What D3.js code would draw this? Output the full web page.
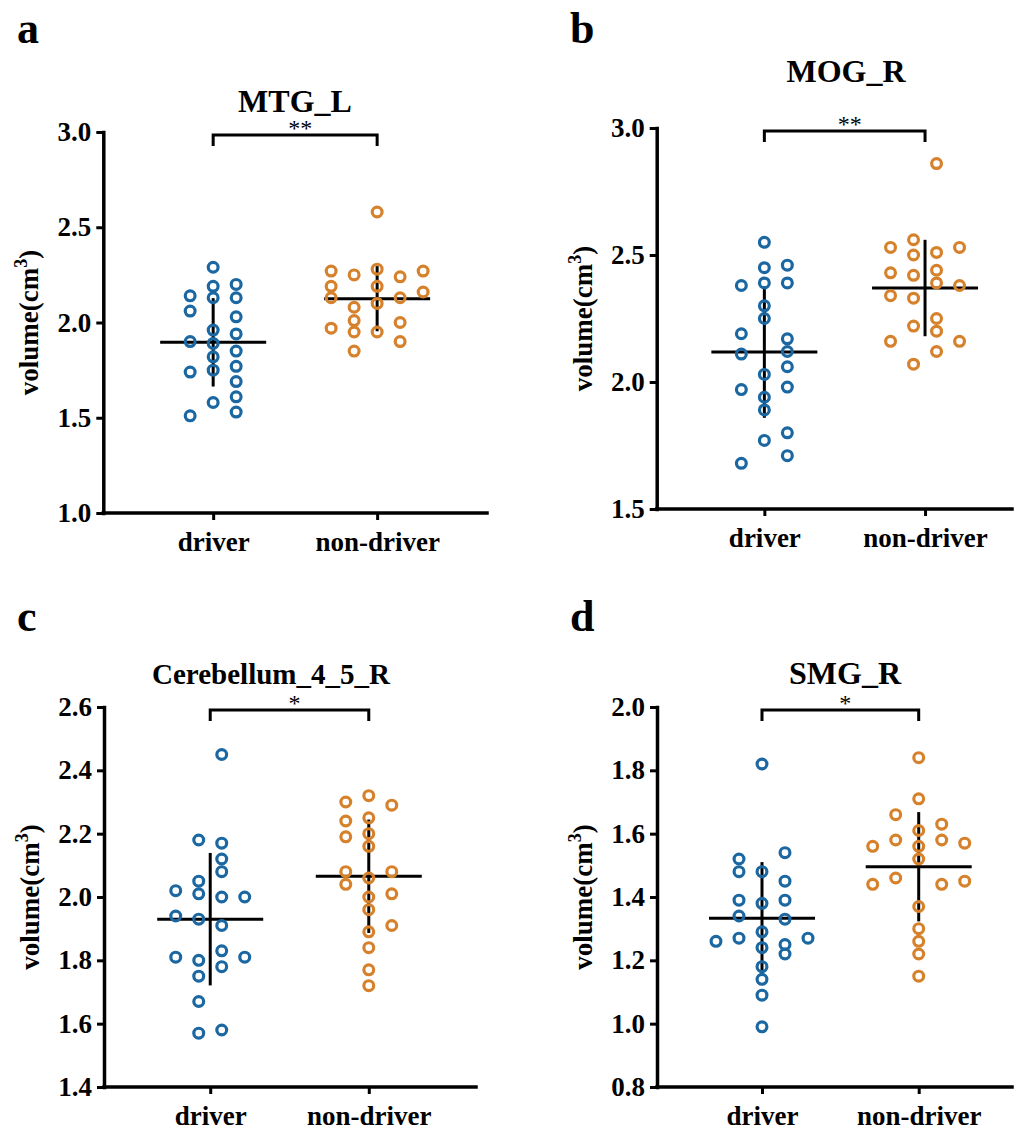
<!DOCTYPE html>
<html>
<head>
<meta charset="utf-8">
<script src="https://cdn.jsdelivr.net/npm/d3@7"></script>
<style>
body { margin: 0; background: #fff; }
svg text { font-family: "Liberation Serif", "Times New Roman", serif; font-weight: bold; fill: #000; }
</style>
</head>
<body>
<svg id="fig" width="1028" height="1126"></svg>
<script>
const groups = ["driver", "non-driver"];
const groupColors = ["#1b67a2", "#d6812b"];

// MTG_L  (lane = swarm column the dot sits in)
const mtgDriver        = [2.14, 2.06, 1.90, 1.74, 1.51, 2.29, 2.19, 2.13, 1.96, 1.89, 1.82, 1.75, 1.58, 2.20, 2.13, 2.03, 1.94, 1.85, 1.77, 1.69, 1.61, 1.53];
const mtgDriverLane    = [-1, -1, -1, -1, -1, 0, 0, 0, 0, 0, 0, 0, 0, 1, 1, 1, 1, 1, 1, 1, 1, 1];
const mtgNonDriver     = [2.27, 2.19, 2.13, 1.97, 2.25, 2.08, 2.01, 1.95, 1.85, 2.58, 2.28, 2.19, 2.10, 1.95, 2.24, 2.13, 2.00, 1.90, 2.27, 2.16];
const mtgNonDriverLane = [-2, -2, -2, -2, -1, -1, -1, -1, -1, 0, 0, 0, 0, 0, 1, 1, 1, 1, 2, 2];

// MOG_R
const mogDriver        = [2.38, 2.19, 2.11, 1.97, 1.68, 2.55, 2.45, 2.39, 2.30, 2.25, 2.03, 1.94, 1.89, 1.77, 2.46, 2.39, 2.17, 2.12, 2.06, 1.98, 1.80, 1.71];
const mogDriverLane    = [-1, -1, -1, -1, -1, 0, 0, 0, 0, 0, 0, 0, 0, 0, 1, 1, 1, 1, 1, 1, 1, 1];
const mogNonDriver     = [2.53, 2.43, 2.34, 2.16, 2.56, 2.50, 2.42, 2.33, 2.22, 2.07, 2.86, 2.51, 2.44, 2.39, 2.25, 2.20, 2.12, 2.53, 2.38, 2.16];
const mogNonDriverLane = [-1.5, -1.5, -1.5, -1.5, -0.5, -0.5, -0.5, -0.5, -0.5, -0.5, 0.5, 0.5, 0.5, 0.5, 0.5, 0.5, 0.5, 1.5, 1.5, 1.5];

// Cerebellum_4_5_R
const cbDriver         = [2.02, 1.94, 1.81, 2.18, 2.05, 2.01, 1.93, 1.80, 1.75, 1.67, 1.57, 2.45, 2.17, 2.12, 2.08, 2.00, 1.91, 1.83, 1.78, 1.58, 2.00, 1.81];
const cbDriverLane     = [-1.5, -1.5, -1.5, -0.5, -0.5, -0.5, -0.5, -0.5, -0.5, -0.5, -0.5, 0.5, 0.5, 0.5, 0.5, 0.5, 0.5, 0.5, 0.5, 0.5, 1.5, 1.5];
const cbNonDriver      = [2.30, 2.24, 2.19, 2.08, 2.04, 2.32, 2.25, 2.20, 2.16, 2.06, 2.00, 1.96, 1.89, 1.84, 1.77, 1.72, 2.29, 2.08, 2.01, 1.91];
const cbNonDriverLane  = [-1, -1, -1, -1, -1, 0, 0, 0, 0, 0, 0, 0, 0, 0, 0, 0, 1, 1, 1, 1];

// SMG_R
const smgDriver        = [1.26, 1.52, 1.48, 1.39, 1.34, 1.27, 1.82, 1.48, 1.38, 1.29, 1.24, 1.18, 1.14, 1.09, 0.99, 1.54, 1.45, 1.39, 1.33, 1.25, 1.22, 1.27];
const smgDriverLane    = [-2, -1, -1, -1, -1, -1, 0, 0, 0, 0, 0, 0, 0, 0, 0, 1, 1, 1, 1, 1, 1, 2];
const smgNonDriver     = [1.56, 1.44, 1.66, 1.58, 1.46, 1.84, 1.71, 1.61, 1.56, 1.52, 1.37, 1.30, 1.26, 1.22, 1.15, 1.63, 1.58, 1.44, 1.57, 1.45];
const smgNonDriverLane = [-2, -2, -1, -1, -1, 0, 0, 0, 0, 0, 0, 0, 0, 0, 0, 1, 1, 1, 2, 2];

const panelLetters = ["a", "b", "c", "d"];
const panelTitles  = ["MTG_L", "MOG_R", "Cerebellum_4_5_R", "SMG_R"];
const panelStars   = ["**", "**", "*", "*"];
const yTicksA = [1.0, 1.5, 2.0, 2.5, 3.0];
const yTicksB = [1.5, 2.0, 2.5, 3.0];
const yTicksC = [1.4, 1.6, 1.8, 2.0, 2.2, 2.4, 2.6];
const yTicksD = [0.8, 1.0, 1.2, 1.4, 1.6, 1.8, 2.0];

const serif = '"Liberation Serif", "Times New Roman", serif';

class DotPanel
{
    constructor(svg, opts)
    {
        this.svg = svg;
        this.opts = opts;
    }

    draw()
    {
        let o = this.opts;
        let g = this.svg.append("g");

        let xScale = d3.scalePoint()
                       .domain(groups)
                       .range([o.x0, o.x1])
                       .padding(0.67);
        let yScale = d3.scaleLinear()
                       .domain(d3.extent(o.ticks))
                       .range([o.yBottom, o.yTop]);

        let laneGap = 23;

        // mean +/- SD, drawn under the rings
        o.series.forEach(function(s, i){
            let cx = xScale(groups[i]);
            let m = d3.mean(s.values);
            let sd = d3.deviation(s.values);
            g.append("line")
             .attr("x1", cx - 53).attr("x2", cx + 53)
             .attr("y1", yScale(m)).attr("y2", yScale(m))
             .attr("stroke", "#000").attr("stroke-width", 3);
            g.append("line")
             .attr("x1", cx).attr("x2", cx)
             .attr("y1", yScale(m + sd)).attr("y2", yScale(m - sd))
             .attr("stroke", "#000").attr("stroke-width", 3);
        });

        o.series.forEach(function(s, i){
            let pts = s.values.map((v, k) => ({v: v, lane: s.lanes[k]}));
            g.selectAll(".dot" + i)
             .data(pts)
             .enter()
             .append("circle")
             .attr("cx", d => xScale(groups[i]) + d.lane * laneGap)
             .attr("cy", d => yScale(d.v))
             .attr("r", 4.9)
             .attr("fill", "none")
             .attr("stroke", groupColors[i])
             .attr("stroke-width", 3.2);
        });

        let yAxis = d3.axisLeft(yScale)
                      .tickValues(o.ticks)
                      .tickFormat(d3.format(".1f"))
                      .tickSizeInner(7)
                      .tickSizeOuter(0)
                      .tickPadding(5);
        let ya = g.append("g")
                  .attr("transform", "translate(" + o.x0 + ",0)")
                  .call(yAxis);

        let xAxis = d3.axisBottom(xScale)
                      .tickSizeInner(7)
                      .tickSizeOuter(0)
                      .tickPadding(12);
        let xa = g.append("g")
                  .attr("transform", "translate(0," + o.yBottom + ")")
                  .call(xAxis);
        // the baseline runs to its own end, not the scale's
        xa.select(".domain").remove();
        xa.append("line")
          .attr("x1", o.x0).attr("x2", o.axisEnd)
          .attr("stroke", "#000").attr("stroke-width", 3.5).attr("stroke-linecap", "square");

        [ya, xa].forEach(function(a){
            a.attr("font-family", serif).attr("font-size", 27);
            a.select(".domain").attr("stroke-width", 3.5).attr("stroke-linecap", "square");
            a.selectAll(".tick line").attr("stroke-width", 3);
            a.selectAll("text")
             .attr("font-size", 27)
             .style("font-family", serif)
             .style("font-weight", "bold");
        });

        // significance bracket
        let bx0 = xScale(groups[0]), bx1 = xScale(groups[1]);
        let by = o.yTop + 3;
        g.append("path")
         .attr("d", "M" + bx0 + "," + (by + 11) + "V" + by + "H" + bx1 + "V" + (by + 11))
         .attr("fill", "none")
         .attr("stroke", "#000")
         .attr("stroke-width", 3);
        g.append("text")
         .attr("x", (bx0 + bx1) / 2 + 5)
         .attr("y", by + 1)
         .attr("text-anchor", "middle")
         .attr("font-size", 24)
         .style("font-weight", "normal")
         .text(o.stars);

        g.append("text")
         .attr("x", o.titleX)
         .attr("y", o.titleY)
         .attr("text-anchor", "middle")
         .attr("font-size", o.titleSize)
         .text(o.title);

        g.append("text")
         .attr("x", o.letterX)
         .attr("y", o.letterY)
         .attr("font-size", 44)
         .text(o.letter);

        let lab = g.append("text")
                   .attr("transform", "translate(" + (o.x0 - 65) + "," + ((o.yTop + o.yBottom) / 2) + ") rotate(-90)")
                   .attr("text-anchor", "middle")
                   .attr("font-size", 27);
        lab.append("tspan").text("volume(cm");
        lab.append("tspan").attr("font-size", 18).attr("dy", -11).text("3");
        lab.append("tspan").attr("dy", 11).text(")");
    }
}

let svg = d3.select("#fig");

let panels = [
    {x0: 103.3, x1: 487, axisEnd: 487, yTop: 132, yBottom: 513, ticks: yTicksA,
     titleX: 295, titleY: 112, titleSize: 32, letterX: 17, letterY: 43,
     series: [{values: mtgDriver, lanes: mtgDriverLane}, {values: mtgNonDriver, lanes: mtgNonDriverLane}]},
    {x0: 656.7, x1: 1032.7, axisEnd: 1012, yTop: 128, yBottom: 509, ticks: yTicksB,
     titleX: 846, titleY: 82, titleSize: 32, letterX: 570, letterY: 43,
     series: [{values: mogDriver, lanes: mogDriverLane}, {values: mogNonDriver, lanes: mogNonDriverLane}]},
    {x0: 104, x1: 475, axisEnd: 476, yTop: 707, yBottom: 1087, ticks: yTicksC,
     titleX: 271, titleY: 684, titleSize: 29, letterX: 17, letterY: 631,
     series: [{values: cbDriver, lanes: cbDriverLane}, {values: cbNonDriver, lanes: cbNonDriverLane}]},
    {x0: 657, x1: 1023.7, axisEnd: 1012, yTop: 707, yBottom: 1087, ticks: yTicksD,
     titleX: 845, titleY: 684, titleSize: 32, letterX: 570, letterY: 631,
     series: [{values: smgDriver, lanes: smgDriverLane}, {values: smgNonDriver, lanes: smgNonDriverLane}]}
];

panels.forEach(function(p, i){
    p.title = panelTitles[i];
    p.letter = panelLetters[i];
    p.stars = panelStars[i];
    new DotPanel(svg, p).draw();
});
</script>
</body>
</html>
